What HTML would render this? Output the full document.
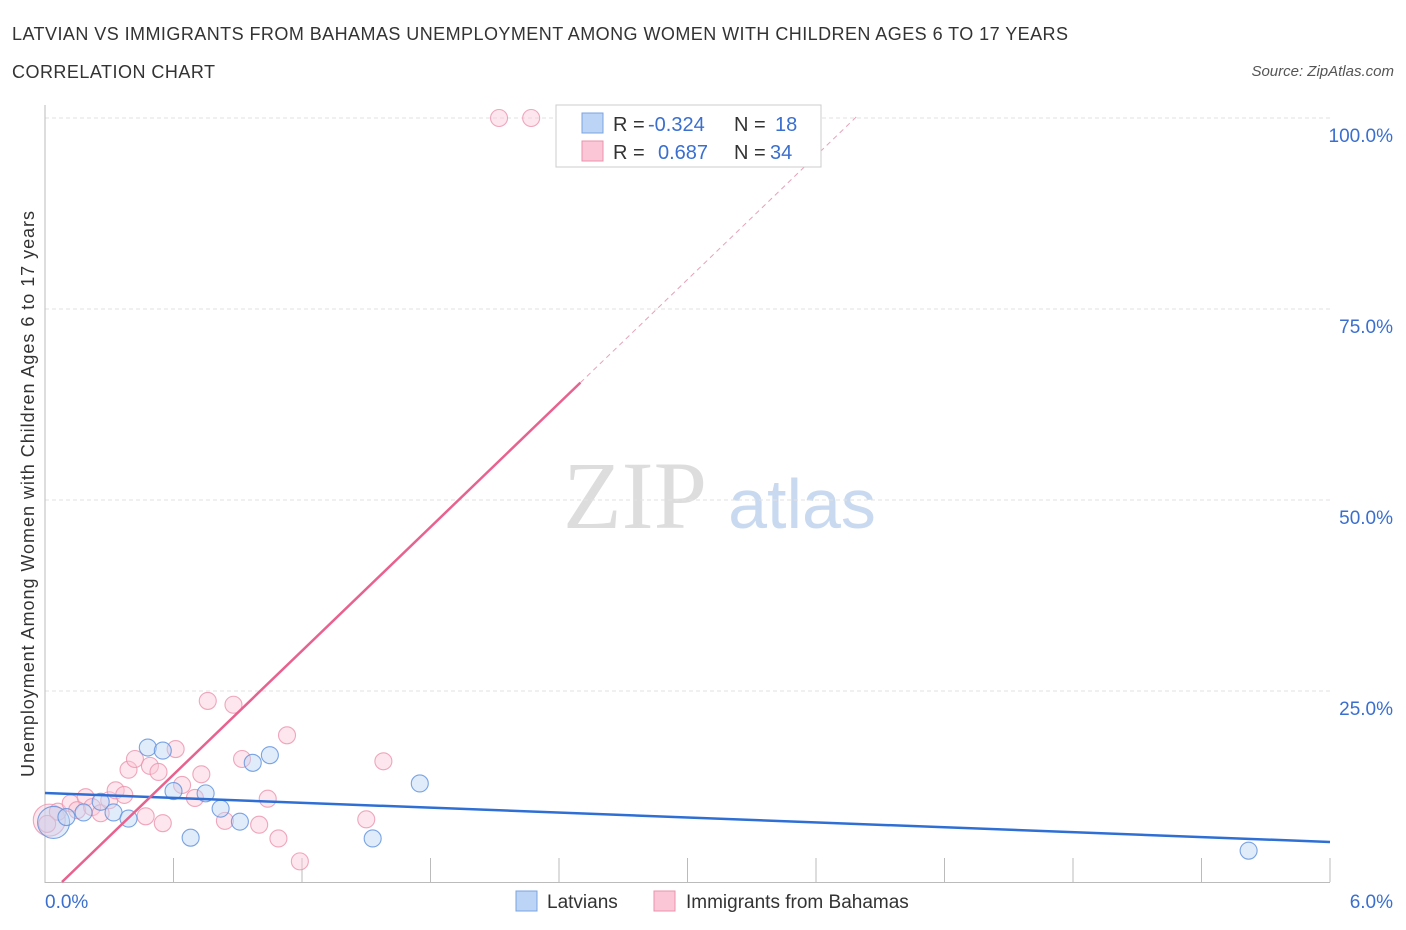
<!DOCTYPE html>
<html><head><meta charset="utf-8"><style>
body{margin:0;background:#fff;font-family:"Liberation Sans",sans-serif;}
svg{display:block}
</style></head><body>
<svg id="c" width="1406" height="930">
<text x="12" y="40" font-size="18" fill="#333" textLength="1056" lengthAdjust="spacing">LATVIAN VS IMMIGRANTS FROM BAHAMAS UNEMPLOYMENT AMONG WOMEN WITH CHILDREN AGES 6 TO 17 YEARS</text>
<text x="12" y="78" font-size="18" fill="#333" textLength="203" lengthAdjust="spacing">CORRELATION CHART</text>
<text x="1394" y="76" font-size="15" fill="#555" font-style="italic" text-anchor="end">Source: ZipAtlas.com</text>
<text x="635" y="528" font-size="96" fill="#ddd" font-family="Liberation Serif, serif" text-anchor="middle">ZIP</text>
<text x="802" y="528" font-size="70" fill="#c9daf0" text-anchor="middle">atlas</text>
<text transform="translate(34,494) rotate(-90)" font-size="18" fill="#333" text-anchor="middle" textLength="566" lengthAdjust="spacing">Unemployment Among Women with Children Ages 6 to 17 years</text>
<g id="grid"></g><g id="marks"></g>
<g>
<rect x="556" y="105" width="265" height="62" fill="#fff" stroke="#ccc"/>
<rect x="582" y="113" width="21" height="20" fill="#bcd4f5" stroke="#7aa5e0"/>
<rect x="582" y="141" width="21" height="20" fill="#fbc7d6" stroke="#eb92ad"/>
<text x="613" y="131" font-size="20" fill="#333">R =</text><text x="648" y="131" font-size="20" fill="#3a6fcf">-0.324</text>
<text x="734" y="131" font-size="20" fill="#333">N =</text><text x="775" y="131" font-size="20" fill="#3a6fcf">18</text>
<text x="613" y="159" font-size="20" fill="#333">R =</text><text x="658" y="159" font-size="20" fill="#3a6fcf">0.687</text>
<text x="734" y="159" font-size="20" fill="#333">N =</text><text x="770" y="159" font-size="20" fill="#3a6fcf">34</text>
</g>
<g>
<rect x="516" y="891" width="21" height="20" fill="#bcd4f5" stroke="#7aa5e0"/>
<text x="547" y="908" font-size="19" fill="#333">Latvians</text>
<rect x="654" y="891" width="21" height="20" fill="#fbc7d6" stroke="#eb92ad"/>
<text x="686" y="908" font-size="19" fill="#333">Immigrants from Bahamas</text>
</g>
</svg>
<script>
const xTicks=[0,0.6,1.2,1.8,2.4,3.0,3.6,4.2,4.8,5.4,6.0];
const yTicks=[25,50,75,100];
const yTickLabels=["25.0%","50.0%","75.0%","100.0%"];
const blueX=[0.04,0.1,0.18,0.26,0.32,0.39,0.48,0.55,0.6,0.68,0.75,0.82,0.91,0.97,1.05,1.53,1.75,5.62];
const blueY=[7.8,8.5,9.1,10.5,9.1,8.3,17.6,17.2,11.9,5.8,11.6,9.6,7.9,15.6,16.6,5.7,12.9,4.1];
const pinkX=[0.02,0.06,0.12,0.19,0.15,0.22,0.26,0.3,0.33,0.37,0.39,0.42,0.47,0.49,0.53,0.55,0.61,0.64,0.7,0.73,0.76,0.84,0.88,0.92,1.0,1.04,1.09,1.13,1.19,1.5,1.58,2.12,2.27,0.01];
const pinkY=[8.1,9.2,10.3,11.1,9.4,9.8,9.0,10.7,12.0,11.4,14.7,16.1,8.6,15.2,14.4,7.7,17.4,12.7,11.0,14.1,23.7,8.0,23.2,16.1,7.5,10.9,5.7,19.2,2.7,8.2,15.8,100,100,7.6];
const blueBig=[0],pinkBig=[0];
const blueTrend=[11.65,5.24];const pinkTrend=[-2.14,27.0];
const X=v=>45+v*1285/6, Y=v=>882-v*7.64;
const NS="http://www.w3.org/2000/svg";
function mk(t,a,p){const e=document.createElementNS(NS,t);for(const k in a)e.setAttribute(k,a[k]);p.appendChild(e);return e;}
const g=document.getElementById('grid'),m=document.getElementById('marks');
yTicks.forEach((t,i)=>{const l=mk('line',{x1:45,x2:1330,y1:Y(t),y2:Y(t),stroke:'#e2e2e2','stroke-dasharray':'4,3'},g);


const tx=mk('text',{x:1393,y:Y(t)+24,'font-size':19,fill:'#3a6fcf','text-anchor':'end'},g);tx.textContent=yTickLabels[i];

});
mk('line',{x1:45,x2:45,y1:105,y2:883,stroke:'#bbb'},g);
mk('line',{x1:45,x2:1330,y1:882.5,y2:882.5,stroke:'#bbb'},g);
xTicks.slice(1).forEach(t=>{const x=X(t);const l=mk('line',{x1:x,x2:x,y1:858,y2:882,stroke:'#bbb'},g);

});
const xl0=mk('text',{x:45,y:908,'font-size':19,fill:'#3a6fcf'},g);xl0.textContent='0.0%';


const xl1=mk('text',{x:1393,y:908,'font-size':19,fill:'#3a6fcf','text-anchor':'end'},g);xl1.textContent='6.0%';


function pts(xs,ys,big,fill,stroke,name){xs.forEach((v,i)=>{const c=mk('circle',{cx:X(v),cy:Y(ys[i]),r:big.includes(i)?16:8.5,fill:fill,'fill-opacity':0.45,stroke:stroke,'stroke-width':1.1,'stroke-opacity':0.8},m);

});}
pts(pinkX,pinkY,pinkBig,'#fbc7d6','#eb92ad','bahamas-point');
pts(blueX,blueY,blueBig,'#bcd4f5','#5b8fdc','latvian-point');
const bl=mk('line',{x1:X(0),y1:Y(blueTrend[0]),x2:X(6),y2:Y(blueTrend[1]),stroke:'#2f6fd4','stroke-width':2.5},m);


const px0=-pinkTrend[0]/pinkTrend[1];
const pl=mk('line',{x1:X(px0),y1:Y(0),x2:X(2.5),y2:Y(pinkTrend[0]+pinkTrend[1]*2.5),stroke:'#e8628f','stroke-width':2.5},m);


const pd=mk('line',{x1:X(2.5),y1:Y(pinkTrend[0]+pinkTrend[1]*2.5),x2:X(3.8),y2:Y(pinkTrend[0]+pinkTrend[1]*3.8),stroke:'#e8a0b8','stroke-width':1,'stroke-dasharray':'5,4'},m);


</script>
</body></html>
